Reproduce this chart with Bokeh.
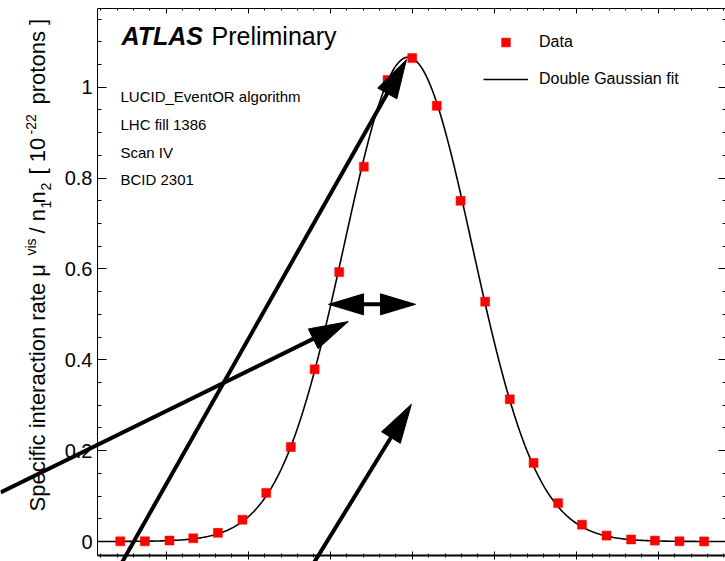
import numpy as np
from bokeh.plotting import figure
from bokeh.models import (Range1d, LinearAxis, SingleIntervalTicker, CustomJSTickFormatter,
                          Legend, LegendItem, Label, PolyAnnotation)
from bokeh.embed import file_html
from bokeh.resources import INLINE

# ---------------- data ----------------
separation_mm = [-0.356, -0.326, -0.296, -0.267, -0.237, -0.207, -0.178, -0.148, -0.119,
                 -0.089, -0.059, -0.030, 0.000, 0.030, 0.059, 0.089, 0.119, 0.148,
                 0.178, 0.207, 0.237, 0.267, 0.296, 0.326, 0.356]
rate = [0.0003, 0.0005, 0.002, 0.007, 0.019, 0.048, 0.107, 0.208, 0.379,
        0.593, 0.825, 1.016, 1.064, 0.959, 0.750, 0.528, 0.313, 0.173,
        0.0845, 0.037, 0.013, 0.0044, 0.002, 0.0005, 0.0002]

# double Gaussian fit parameters
fit_amplitude = 1.066
fit_mean = -0.005
fit_sigma_core = 0.076
fit_sigma_tail = 0.092
fit_core_fraction = 0.80

legend_labels = ["Data", "Double Gaussian fit"]
info_lines = ["LUCID_EventOR algorithm", "LHC fill 1386", "Scan IV", "BCID 2301"]

# annotation arrows (tail -> tip), data units
arrow_x0 = [-0.358, -0.502, -0.102, -0.124]
arrow_y0 = [-0.059, 0.108, 0.522, -0.059]
arrow_x1 = [-0.007, -0.078, 0.004, -0.001]
arrow_y1 = [1.061, 0.484, 0.522, 0.302]
arrow_double = [False, False, True, False]

# ---------------- layout ----------------
FONT = "Liberation Sans"
W, H = 725, 561
PX_X = 820.0     # pixels per mm
PX_Y = 454.3     # pixels per unit of rate
XS, XE = -411.7 / PX_X, (W - 411.7) / PX_X          # whole canvas in data units
YE, YS = 541.0 / PX_Y, (541.0 - H) / PX_Y
# the drawn (axis) box
AX_X0, AX_X1 = (97 - 411.7) / PX_X, (724.5 - 411.7) / PX_X
AX_Y0, AX_Y1 = (541 - 555) / PX_Y, (541 - 7.5) / PX_Y


def px2x(px):
    return XS + px / PX_X


def py2y(py):
    return YE - py / PX_Y


p = figure(width=W, height=H, x_range=Range1d(XS, XE), y_range=Range1d(YS, YE),
           output_backend="svg", toolbar_location=None,
           x_axis_location=None, y_axis_location=None,
           min_border_left=0, min_border_right=0, min_border_top=0, min_border_bottom=0)
p.outline_line_color = None
p.background_fill_color = "white"
p.border_fill_color = "white"
p.xgrid.visible = False
p.ygrid.visible = False


def axis(interval, nminor, loc, bounds, tin, tout, mtin, mtout, lw=1, labels=False):
    ax = LinearAxis(ticker=SingleIntervalTicker(interval=interval, num_minor_ticks=nminor),
                    fixed_location=loc, bounds=bounds)
    ax.major_tick_in = tin
    ax.major_tick_out = tout
    ax.minor_tick_in = mtin
    ax.minor_tick_out = mtout
    ax.axis_line_color = "black"
    ax.major_tick_line_color = "black"
    ax.minor_tick_line_color = "black"
    ax.axis_line_width = lw
    ax.major_tick_line_width = 1
    ax.minor_tick_line_width = 1
    if labels:
        ax.formatter = CustomJSTickFormatter(code="return String(Math.round(tick*10)/10)")
        ax.major_label_text_font = FONT
        ax.major_label_text_font_size = "20px"
        ax.major_label_text_color = "black"
        ax.major_label_standoff = 5
    else:
        ax.formatter = CustomJSTickFormatter(code="return ''")
        ax.major_label_text_font_size = "0px"
        ax.major_label_standoff = 0
    return ax


p.add_layout(axis(0.2, 4, AX_X0, (AX_Y0, AX_Y1), 9, 0, 4, 0, 1, labels=True), "left")
p.add_layout(axis(0.2, 4, AX_X1, (AX_Y0, AX_Y1), 7, 0, 3, 0, 1), "right")
p.add_layout(axis(0.1, 5, AX_Y0, (AX_X0, AX_X1), 4, 4, 2, 2, 2), "below")
p.add_layout(axis(0.1, 5, AX_Y1, (AX_X0, AX_X1), 5, 0, 2, 0, 1), "above")

# ---------------- glyphs ----------------
xf = np.linspace(AX_X0, AX_X1, 600)
yf = fit_amplitude * (fit_core_fraction * np.exp(-(xf - fit_mean) ** 2 / (2 * fit_sigma_core ** 2))
                      + (1 - fit_core_fraction) * np.exp(-(xf - fit_mean) ** 2 / (2 * fit_sigma_tail ** 2)))
fit_line = p.line(xf, yf, line_color="black", line_width=1.6)
pts = p.scatter(separation_mm, rate, marker="square", size=9, fill_color="#ff0000",
                line_color="#ff0000", line_width=0.5)

legend = Legend(items=[LegendItem(label=legend_labels[0], renderers=[pts]),
                       LegendItem(label=legend_labels[1], renderers=[fit_line])],
                location=(483, H - 90), orientation="vertical",
                glyph_width=45, glyph_height=22, label_height=22, label_width=10,
                spacing=15, padding=0, margin=0, label_standoff=11,
                border_line_color=None, background_fill_alpha=0,
                label_text_font=FONT, label_text_font_size="16px", label_text_color="black")
p.add_layout(legend)

# ---------------- texts ----------------
p.add_layout(Label(x=px2x(121), y=py2y(35), text="ATLAS", text_font=FONT, text_font_size="25px",
                   text_font_style="bold italic", text_color="black", text_baseline="alphabetic"))
p.add_layout(Label(x=px2x(211), y=py2y(35), text="Preliminary", text_font=FONT, text_font_size="25px",
                   text_color="black", text_baseline="alphabetic"))
for i, t in enumerate(info_lines):
    p.add_layout(Label(x=px2x(120), y=py2y(96 + 27.8 * i), text=t, text_font=FONT,
                       text_font_size="15px", text_color="black", text_baseline="alphabetic"))

# y axis title, built from pieces (rotated, reads bottom to top)
BASE = 37
title_pieces = [
    ("Specific interaction rate \u03bc", 511, 0, "22px"),
    ("vis", 255, -7, "14px"),
    ("/ n", 233, 0, "22px"),
    ("1", 208, 8, "14px"),
    ("n", 203, 0, "22px"),
    ("2", 190, 8, "14px"),
    ("[ 10", 174, 0, "22px"),
    ("-22", 134, -7, "14px"),
    ("protons ]", 104, 0, "22px"),
]
for txt, py, dx, fs in title_pieces:
    p.add_layout(Label(x=px2x(BASE + dx), y=py2y(py), text=txt, angle=np.pi / 2,
                       text_font=FONT, text_font_size=fs, text_color="black",
                       text_align="left", text_baseline="alphabetic"))


# ---------------- arrows ----------------
def head(xt, yt, ux, uy, L, Wd):
    bx, by = xt - L * ux, yt - L * uy
    nx, ny = -uy, ux
    return ([xt, bx + nx * Wd / 2, bx - nx * Wd / 2], [yt, by + ny * Wd / 2, by - ny * Wd / 2])


for x0, y0, x1, y1, dbl in zip(arrow_x0, arrow_y0, arrow_x1, arrow_y1, arrow_double):
    sx0, sy0 = (x0 - XS) * PX_X, (y0 - YS) * PX_Y
    sx1, sy1 = (x1 - XS) * PX_X, (y1 - YS) * PX_Y
    d = np.hypot(sx1 - sx0, sy1 - sy0)
    ux, uy = (sx1 - sx0) / d, (sy1 - sy0) / d
    L, Wd = (35, 21) if dbl else (39, 22)
    e1 = (sx1 - 0.7 * L * ux, sy1 - 0.7 * L * uy)
    e0 = (sx0 + 0.7 * L * ux, sy0 + 0.7 * L * uy) if dbl else (sx0, sy0)
    p.add_layout(PolyAnnotation(xs=[XS + e0[0] / PX_X, XS + e1[0] / PX_X],
                                ys=[YS + e0[1] / PX_Y, YS + e1[1] / PX_Y],
                                line_color="black", line_alpha=1, line_width=4,
                                fill_color=None, fill_alpha=0))
    heads = [head(sx1, sy1, ux, uy, L, Wd)]
    if dbl:
        heads.append(head(sx0, sy0, -ux, -uy, L, Wd))
    for hx, hy in heads:
        p.add_layout(PolyAnnotation(xs=[XS + v / PX_X for v in hx], ys=[YS + v / PX_Y for v in hy],
                                    line_color="black", line_alpha=1, line_width=1,
                                    fill_color="black", fill_alpha=1))

open("out.html", "w").write(file_html(p, INLINE))
